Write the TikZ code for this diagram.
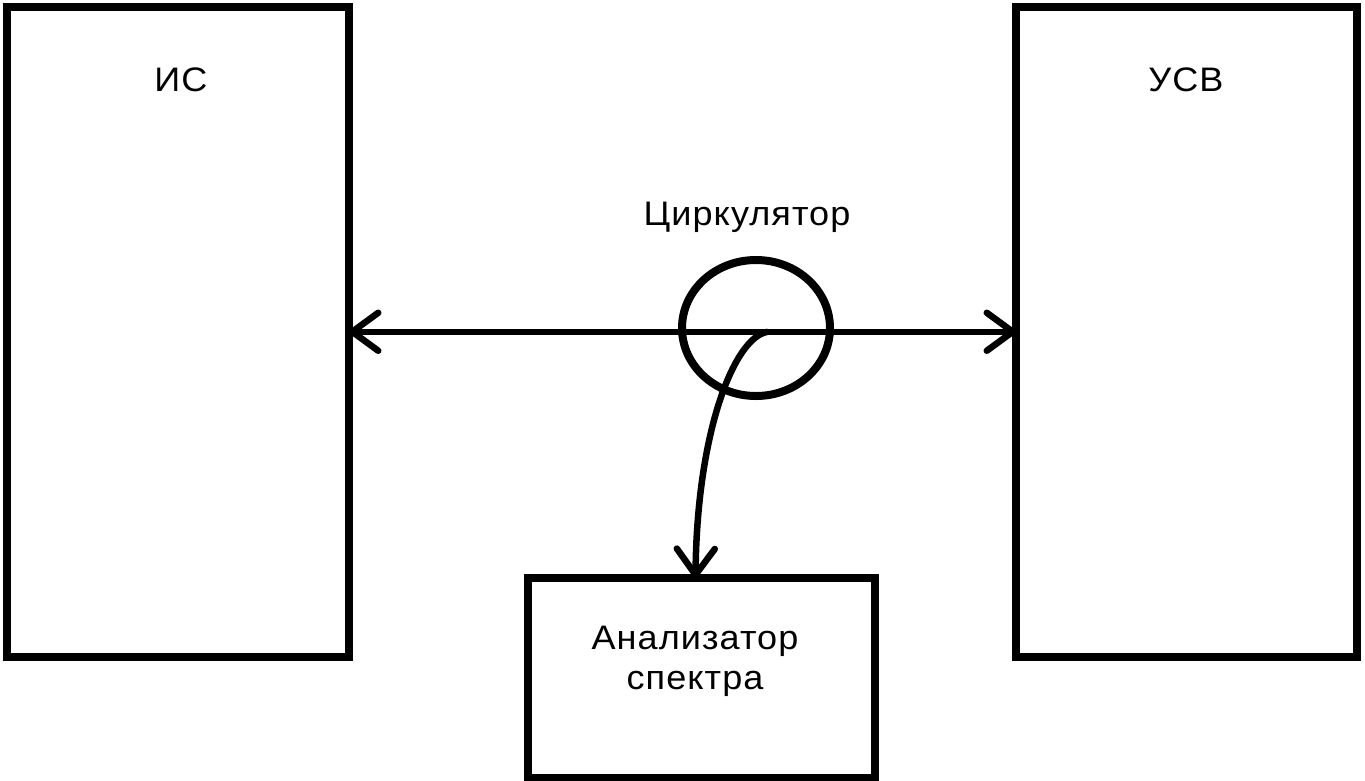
\documentclass[tikz,border=0pt]{standalone}
\usepackage{fontspec}
\setmainfont{Liberation Sans}[LetterSpace=3]
\usetikzlibrary{arrows.meta,shapes.geometric}
\begin{document}
\begin{tikzpicture}[x=1pt,y=-1pt,
  blk/.style={draw,line width=8pt,outer sep=0pt,inner sep=0pt},
  lbl/.style={font=\fontsize{34}{40}\selectfont,inner sep=0pt,align=center,xscale=1.06,transform shape},
  arr/.style={line width=6.5pt,-{Straight Barb[length=26pt,width=38pt,line cap=round,line join=round]}},
  arr2/.style={line width=6.5pt,{Straight Barb[length=26pt,width=38pt,line cap=round,line join=round]}-{Straight Barb[length=26pt,width=38pt,line cap=round,line join=round]}}]
\useasboundingbox (0,0) rectangle (1365,780);
\node[blk,minimum width=342.5pt,minimum height=650.5pt] (is) at (177.75,331.75) {};
\node[blk,minimum width=341pt,minimum height=650.5pt] (usv) at (1186.5,331.75) {};
\node[blk,minimum width=347pt,minimum height=200pt] (an) at (701.5,678) {};
\node[ellipse,draw,line width=8pt,minimum width=148pt,minimum height=136pt,inner sep=0pt] (circ) at (756,328) {};
\node[lbl] (tis) at (181,80) {ИС};
\node[lbl] (tusv) at (1186,80) {УСВ};
\node[lbl] (tcirc) at (747,217) {Циркулятор};
\node[lbl] (tan) at (695,661) {Анализатор\\спектра};
\coordinate (j) at (768,331.75);
\draw[arr2] (is.east) -- (usv.west);
\draw[arr] (j) .. controls (735,336) and (697,430) .. ([xshift=-6pt]an.north);
\end{tikzpicture}
\end{document}
